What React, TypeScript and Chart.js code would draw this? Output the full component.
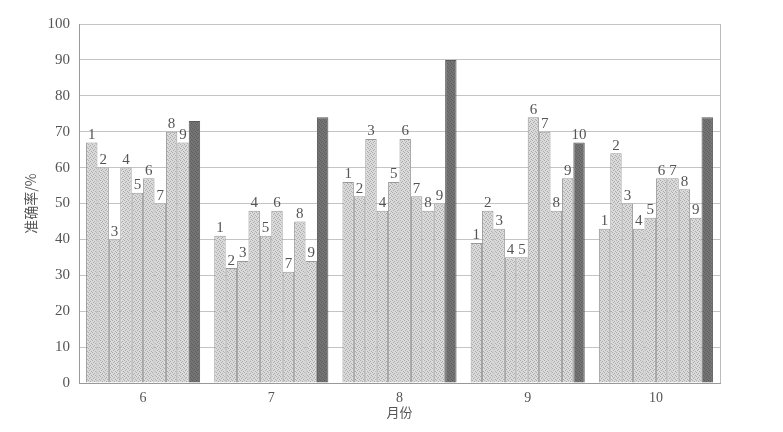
import React, { useEffect, useRef } from "react";
import { Chart, registerables } from "chart.js";

Chart.register(...registerables);

const months = ["6", "7", "8", "9", "10"];
const seriesNames = ["1", "2", "3", "4", "5", "6", "7", "8", "9", "10"];
const s1 = [67, 41, 56, 39, 43];
const s2 = [60, 32, 52, 48, 64];
const s3 = [40, 34, 68, 43, 50];
const s4 = [60, 48, 48, 35, 43];
const s5 = [53, 41, 56, 35, 46];
const s6 = [57, 48, 68, 74, 57];
const s7 = [50, 31, 52, 70, 57];
const s8 = [70, 45, 48, 48, 54];
const s9 = [67, 34, 50, 57, 46];
const s10 = [73, 74, 90, 67, 74];
const seriesValues = [s1, s2, s3, s4, s5, s6, s7, s8, s9, s10];
// whether the dark (10th) bar carries a label, per month
const darkLabelShown = [false, false, false, true, false];

function makePattern(base: string, dot: string): CanvasPattern | string {
  const c = document.createElement("canvas");
  c.width = 4;
  c.height = 4;
  const ctx = c.getContext("2d");
  if (!ctx) return base;
  ctx.fillStyle = base;
  ctx.fillRect(0, 0, 4, 4);
  ctx.fillStyle = dot;
  ctx.fillRect(0, 0, 1, 1);
  ctx.fillRect(2, 1, 1, 1);
  ctx.fillRect(1, 2, 1, 1);
  ctx.fillRect(3, 3, 1, 1);
  const p = ctx.createPattern(c, "repeat");
  return p || base;
}

const labelPlugin = {
  id: "barLabels",
  afterDatasetsDraw(chart: any) {
    const ctx = chart.ctx;
    ctx.save();
    ctx.font = "15px 'Liberation Serif', serif";
    ctx.fillStyle = "#555";
    ctx.textAlign = "center";
    ctx.textBaseline = "bottom";
    chart.data.datasets.forEach((ds: any, di: number) => {
      const meta = chart.getDatasetMeta(di);
      meta.data.forEach((bar: any, i: number) => {
        if (di === 9 && !darkLabelShown[i]) return;
        ctx.fillText(seriesNames[di], bar.x, bar.y);
      });
    });
    ctx.restore();
  },
};

export default function App() {
  const ref = useRef<HTMLCanvasElement | null>(null);
  useEffect(() => {
    document.body.style.margin = "0";
    if (!ref.current) return;
    const light = makePattern("#dadada", "#ababab");
    const dark = makePattern("#747474", "#5e5e5e");
    const chart = new Chart(ref.current, {
      type: "bar",
      data: {
        labels: months,
        datasets: seriesValues.map((vals, i) => ({
          label: seriesNames[i],
          data: vals,
          backgroundColor: i === 9 ? dark : light,
          borderColor: i === 9 ? "#5a5a5a" : "#999",
          borderWidth: 1,
          categoryPercentage: 0.89,
          barPercentage: 1,
        })),
      },
      options: {
        animation: false,
        responsive: false,
        maintainAspectRatio: false,
        layout: { padding: { left: 0, top: 24, right: 63, bottom: 0 } },
        plugins: { legend: { display: false }, tooltip: { enabled: false } },
        scales: {
          x: {
            grid: { display: false, drawTicks: false },
            border: { color: "#999" },
            ticks: {
              color: "#555",
              font: { family: "'Liberation Serif', serif", size: 14 },
              padding: 7,
            },
            title: {
              display: true,
              text: "月份",
              color: "#555",
              font: { family: "'Noto Sans CJK SC', sans-serif", size: 13 },
              padding: { top: 0, bottom: 12 },
            },
            afterFit(scale: any) {
              scale.height = 49;
            },
          },
          y: {
            min: 0,
            max: 100,
            ticks: {
              stepSize: 10,
              color: "#555",
              font: { family: "'Liberation Serif', serif", size: 15 },
              padding: 9,
            },
            grid: { color: "#c4c4c4", drawTicks: false },
            border: { color: "#999" },
            title: {
              display: true,
              text: "准确率/%",
              color: "#555",
              font: { family: "'Noto Sans CJK SC', sans-serif", size: 14 },
              padding: { top: 22, bottom: 4 },
            },
            afterFit(scale: any) {
              scale.width = 79;
            },
          },
        },
      },
      plugins: [
        labelPlugin,
        {
          id: "rightBorder",
          afterDraw(chart: any) {
            const a = chart.chartArea;
            const ctx = chart.ctx;
            ctx.save();
            ctx.strokeStyle = "#bbb";
            ctx.lineWidth = 1;
            ctx.beginPath();
            ctx.moveTo(a.right + 0.5, a.top);
            ctx.lineTo(a.right + 0.5, a.bottom);
            ctx.stroke();
            ctx.restore();
          },
        },
      ],
    });
    return () => chart.destroy();
  }, []);
  return (
    <div style={{ width: 783, height: 432, background: "#fff" }}>
      <canvas ref={ref} width={783} height={432} />
    </div>
  );
}
